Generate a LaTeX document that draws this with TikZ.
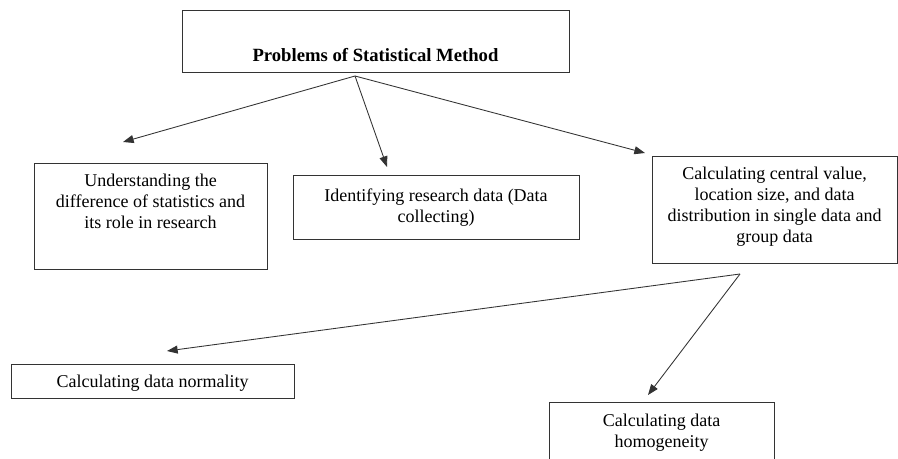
\documentclass[tikz,border=0pt]{standalone}
\usepackage{fontspec}
\setmainfont{Liberation Serif}
\usetikzlibrary{arrows.meta}
\definecolor{frame}{HTML}{333333}

\tikzset{
  probbox/.style={draw=frame,line width=.7pt,inner sep=0pt,align=center,
    font=\fontsize{13.5}{15.75}\selectfont},
  flow/.style={draw=frame,line width=.65pt,-{Triangle[length=8pt,width=6pt]}}
}

\begin{document}
\begin{tikzpicture}[x=.75pt,y=-.75pt]
  \useasboundingbox (0,0) rectangle (898,459);
  \clip (0,0) rectangle (898,459);

  % Main problem on top.
  \node[probbox,minimum width=290.25pt,minimum height=46.5pt,
    text height=34.5pt,text depth=3pt] (problems) at (375.5,41)
    {\fontsize{14}{16}\selectfont\bfseries Problems of Statistical Method};

  % First row of sub-problems.
  \node[probbox,minimum width=174.75pt,minimum height=79.5pt,
    text height=41pt,text depth=22pt] (understand) at (150.5,216)
    {Understanding the\\difference of statistics and\\its role in research};
  \node[probbox,minimum width=214.5pt,minimum height=48pt,
    text height=25pt,text depth=1pt] (identify) at (436,207)
    {Identifying research data (Data\\collecting)};
  \node[probbox,minimum width=183.75pt,minimum height=80.25pt,
    text height=57pt,text depth=8pt] (central) at (774.5,209.5)
    {Calculating central value,\\location size, and data\\distribution in single data and\\group data};

  % Second row.
  \node[probbox,minimum width=212.25pt,minimum height=25.5pt,
    text height=10pt,text depth=1pt] (normality) at (152.5,381)
    {Calculating data normality};
  \node[probbox,minimum width=168.75pt,minimum height=45pt,
    text height=25pt,text depth=2.5pt] (homogen) at (661.5,432)
    {Calculating data\\homogeneity};

  % Forks and arrow ends.
  \coordinate (fork1) at (355,76);
  \coordinate (fork2) at (740,274);
  \coordinate (understand-in) at (123,142);
  \coordinate (identify-in) at (387,167);
  \coordinate (central-in) at (645,153);
  \coordinate (normality-in) at (167,351);
  \coordinate (homogen-in) at (648,395);

  \draw[flow] (fork1) -- (understand-in);
  \draw[flow] (fork1) -- (identify-in);
  \draw[flow] (fork1) -- (central-in);
  \draw[flow] (fork2) -- (normality-in);
  \draw[flow] (fork2) -- (homogen-in);
\end{tikzpicture}
\end{document}
